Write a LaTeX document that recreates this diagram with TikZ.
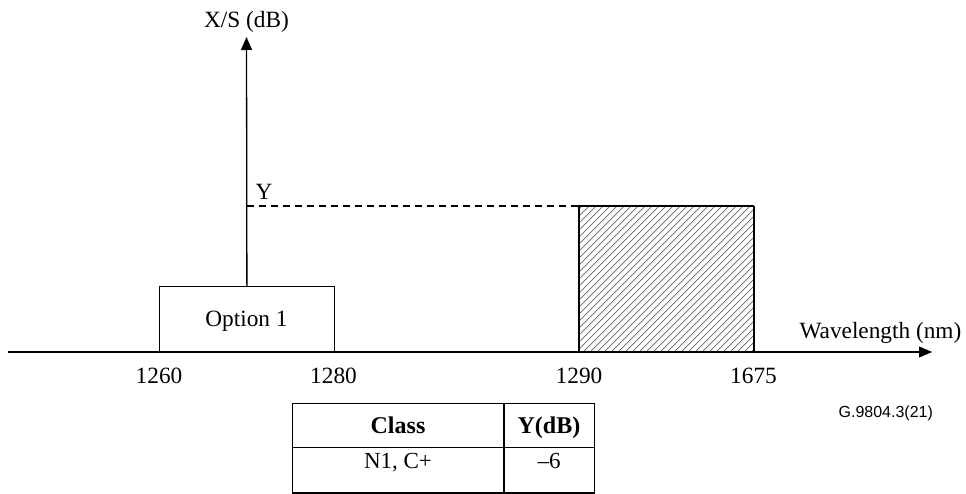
\documentclass[tikz,border=0pt]{standalone}
\usepackage{fontspec}
\setmainfont{Liberation Serif}
\newfontfamily\gsans{Liberation Sans}
\usetikzlibrary{arrows.meta}
\begin{document}
\begin{tikzpicture}[x=1pt,y=-1pt,
  line width=1.3pt,
  lbl/.style={font=\fontsize{23.3}{26}\selectfont, inner sep=0pt, anchor=base},
  tbl/.style={font=\fontsize{23}{26}\selectfont, inner sep=0pt, anchor=base},
  tblh/.style={font=\bfseries\fontsize{24}{27}\selectfont, inner sep=0pt, anchor=base},
  axisarrow/.style={-{Triangle[length=13pt,width=11pt]}},
  box/.style={draw, line width=1.3pt, inner sep=0pt}]
\useasboundingbox (0,0) rectangle (966,494);
% coordinates
\coordinate (xstart) at (8,352);
\coordinate (xend) at (932,352);
\coordinate (ytop) at (246.5,37);
% option 1 box
\node[box, minimum width=174.5pt, minimum height=66pt, anchor=north west] (opt) at (159,286) {};
\node[lbl] (opttext) at (246.5,326) {Option 1};
% hatched box
\node[box, minimum width=174.5pt, minimum height=146pt, anchor=north west] (hatch) at (579,206) {};
\begin{scope}
  \clip (579,206) rectangle (753.5,352);
  \foreach \i in {0,7,...,336} {
    \draw[line width=0.7pt, black!60] (579+\i-150,352) -- (579+\i,202);
  }
\end{scope}
\draw[line width=1.3pt] (579,206) rectangle (753.5,352);
% axes
\draw[axisarrow] (xstart) -- (xend);
\draw[axisarrow] (opt.north) -- (ytop);
\node[lbl] (ylab) at (246.5,28) {X/S (dB)};
\node[lbl, anchor=base east] (xlab) at (962,338) {Wavelength (nm)};
% Y level
\coordinate (ylev) at (246.5,206);
\draw[dash pattern=on 7pt off 5pt, line width=1.2pt] (ylev) -- (hatch.north west);
\node[lbl, anchor=base west] (ytext) at (255,200) {Y};
% tick labels
\node[lbl] (t1260) at (159,383) {1260};
\node[lbl] (t1280) at (333.5,383) {1280};
\node[lbl] (t1290) at (579,383) {1290};
\node[lbl] (t1675) at (753.5,383) {1675};
% figure id
\node[font=\gsans\fontsize{16}{18}\selectfont, inner sep=0pt, anchor=base west] (gid) at (838,417) {G.9804.3(21)};
% table
\draw[line width=1.3pt] (292.5,403.5) rectangle (594.5,493);
\draw[line width=1.3pt] (292.5,447.7) -- (594.5,447.7);
\draw[line width=1.3pt] (504,403.5) -- (504,493);
\node[tblh] (c1) at (398,433) {Class};
\node[tblh] (c2) at (549,433) {Y(dB)};
\node[tbl] (c3) at (398,468) {N1, C+};
\node[tbl] (c4) at (549,468) {–6};
\end{tikzpicture}
\end{document}
